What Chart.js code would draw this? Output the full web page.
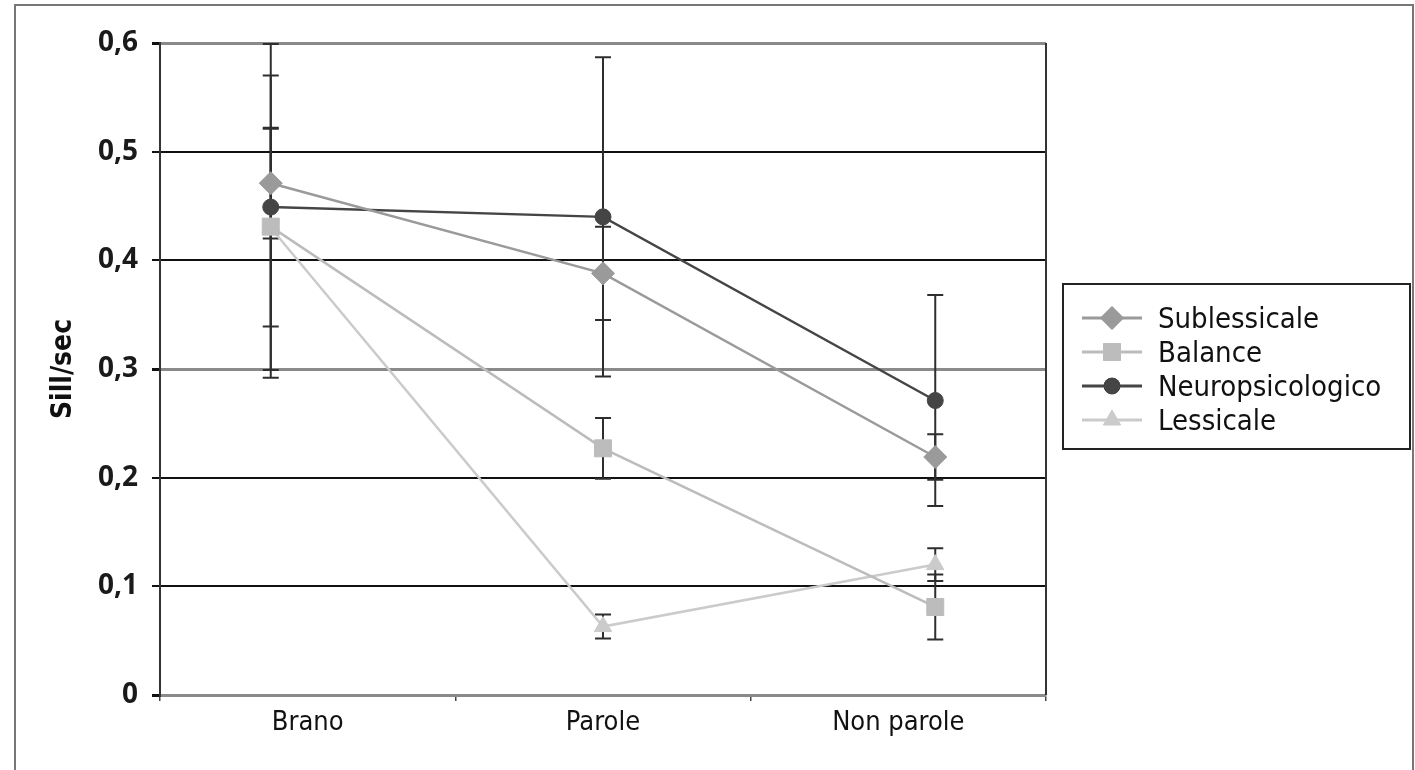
<!DOCTYPE html>
<html>
<head>
<meta charset="utf-8">
<script src="https://cdn.jsdelivr.net/npm/chart.js@4.4.1/dist/chart.umd.min.js"></script>
<style>
  html, body { margin: 0; padding: 0; background: #fff; }
  #frame { position: absolute; left: 14px; top: 4px; width: 1396px; height: 820px; border: 2px solid #777; }
  #grafico { position: absolute; left: 0; top: 0; }
</style>
</head>
<body>
<div id="frame"></div>
<canvas id="grafico" width="1415" height="770"></canvas>
<script>
// Dati
const categorie = ['Brano', 'Parole', 'Non parole'];
const yTickLabels = ['0', '0,1', '0,2', '0,3', '0,4', '0,5', '0,6'];

const sublessicale = [0.471, 0.388, 0.219];
const errSublessicale = [0.051, 0.043, 0.021];
const balance = [0.431, 0.227, 0.081];
const errBalance = [0.139, 0.028, 0.030];
const neuropsicologico = [0.449, 0.440, 0.271];
const errNeuropsicologico = [0.150, 0.147, 0.097];
const lessicale = [0.430, 0.063, 0.120];
const errLessicale = [0.091, 0.011, 0.015];

const fontCondensed = '"DejaVu Sans Condensed", "DejaVu Sans", sans-serif';

function punti(valori) {
    return valori.map((v, i) => ({ x: i, y: v }));
}

const serie = [
    { label: 'Sublessicale', data: sublessicale, err: errSublessicale, color: '#9a9a9a', style: 'rectRot', radius: 11.5 },
    { label: 'Balance', data: balance, err: errBalance, color: '#bcbcbc', style: 'rect', radius: 12 },
    { label: 'Neuropsicologico', data: neuropsicologico, err: errNeuropsicologico, color: '#454545', style: 'circle', radius: 8 },
    { label: 'Lessicale', data: lessicale, err: errLessicale, color: '#cbcbcb', style: 'triangle', radius: 10 }
];

// Barre d'errore disegnate sotto i marcatori
const barreErrore = {
    id: 'barreErrore',
    beforeDatasetsDraw(chart) {
        const ctx = chart.ctx;
        const xs = chart.scales.xv;
        const ys = chart.scales.y;
        const area = chart.chartArea;
        ctx.save();
        // bordo destro dell'area del grafico
        ctx.strokeStyle = '#333';
        ctx.lineWidth = 2;
        ctx.beginPath();
        ctx.moveTo(area.right, area.top);
        ctx.lineTo(area.right, area.bottom);
        ctx.stroke();

        ctx.strokeStyle = '#2e2e2e';
        ctx.lineWidth = 2;
        serie.forEach(s => {
            s.data.forEach((v, i) => {
                const x = xs.getPixelForValue(i);
                const y1 = ys.getPixelForValue(v + s.err[i]);
                const y2 = ys.getPixelForValue(v - s.err[i]);
                ctx.beginPath();
                ctx.moveTo(x, y1);
                ctx.lineTo(x, y2);
                ctx.moveTo(x - 8, y1);
                ctx.lineTo(x + 8, y1);
                ctx.moveTo(x - 8, y2);
                ctx.lineTo(x + 8, y2);
                ctx.stroke();
            });
        });
        ctx.restore();
    }
};

// Legenda con riquadro a destra
const legendaRiquadro = {
    id: 'legendaRiquadro',
    afterDraw(chart) {
        const ctx = chart.ctx;
        const bx = 1063, by = 284, bw = 347, bh = 165;
        ctx.save();
        ctx.strokeStyle = '#222';
        ctx.lineWidth = 2;
        ctx.strokeRect(bx, by, bw, bh);
        ctx.font = '29px ' + fontCondensed;
        ctx.textBaseline = 'alphabetic';
        serie.forEach((s, i) => {
            const y = by + 34 + i * 34;
            ctx.strokeStyle = s.color;
            ctx.lineWidth = 3;
            ctx.beginPath();
            ctx.moveTo(bx + 19, y);
            ctx.lineTo(bx + 79, y);
            ctx.stroke();
            ctx.fillStyle = s.color;
            ctx.lineWidth = 1;
            Chart.helpers.drawPoint(ctx, { pointStyle: s.style, radius: s.radius, rotation: 0, borderWidth: 1 }, bx + 49, y);
            ctx.fill();
            ctx.fillStyle = '#111';
            ctx.fillText(s.label, bx + 95, y + 10);
        });
        ctx.restore();
    }
};

const ctxGrafico = document.getElementById('grafico').getContext('2d');
const grafico = new Chart(ctxGrafico, {
    type: 'line',
    data: {
        labels: categorie,
        datasets: serie.map(s => ({
            label: s.label,
            data: punti(s.data),
            xAxisID: 'xv',
            borderColor: s.color,
            backgroundColor: s.color,
            pointBackgroundColor: s.color,
            pointBorderColor: s.color,
            pointStyle: s.style,
            pointRadius: s.radius,
            pointBorderWidth: 1,
            borderWidth: 2.5,
            tension: 0,
            fill: false
        }))
    },
    options: {
        responsive: false,
        devicePixelRatio: 1,
        animation: false,
        layout: { padding: { top: 43, right: 369, left: 0, bottom: 0 } },
        plugins: {
            legend: { display: false },
            tooltip: { enabled: false }
        },
        scales: {
            x: {
                type: 'category',
                offset: true,
                grid: { offset: true, drawOnChartArea: false, tickLength: 6, color: '#444', lineWidth: 1.5 },
                border: { color: '#8a8a8a', width: 3 },
                ticks: { color: '#111', padding: 6, font: { family: fontCondensed, size: 27 } },
                afterFit(scale) { scale.height = 75; }
            },
            xv: {
                type: 'linear',
                display: false,
                min: -1 / 3,
                max: 7 / 3
            },
            y: {
                min: 0,
                max: 0.6,
                ticks: {
                    stepSize: 0.1,
                    padding: 14,
                    color: '#1a1a1a',
                    font: { family: '"Open Sans", "DejaVu Sans", sans-serif', size: 28, weight: 'bold' },
                    callback: (v, i) => yTickLabels[i]
                },
                grid: {
                    tickLength: 8,
                    color: ctx => ([0, 3, 6].includes(ctx.index) ? '#8a8a8a' : '#111'),
                    lineWidth: ctx => ([0, 3, 6].includes(ctx.index) ? 3 : 2),
                    tickColor: '#111'
                },
                border: { color: '#333', width: 2 },
                title: {
                    display: true,
                    text: 'Sill/sec',
                    color: '#111',
                    padding: { top: 47, bottom: 0 },
                    font: { family: fontCondensed, size: 28, weight: 'bold' }
                },
                afterFit(scale) { scale.width = 160; }
            }
        }
    },
    plugins: [barreErrore, legendaRiquadro]
});
</script>
</body>
</html>
